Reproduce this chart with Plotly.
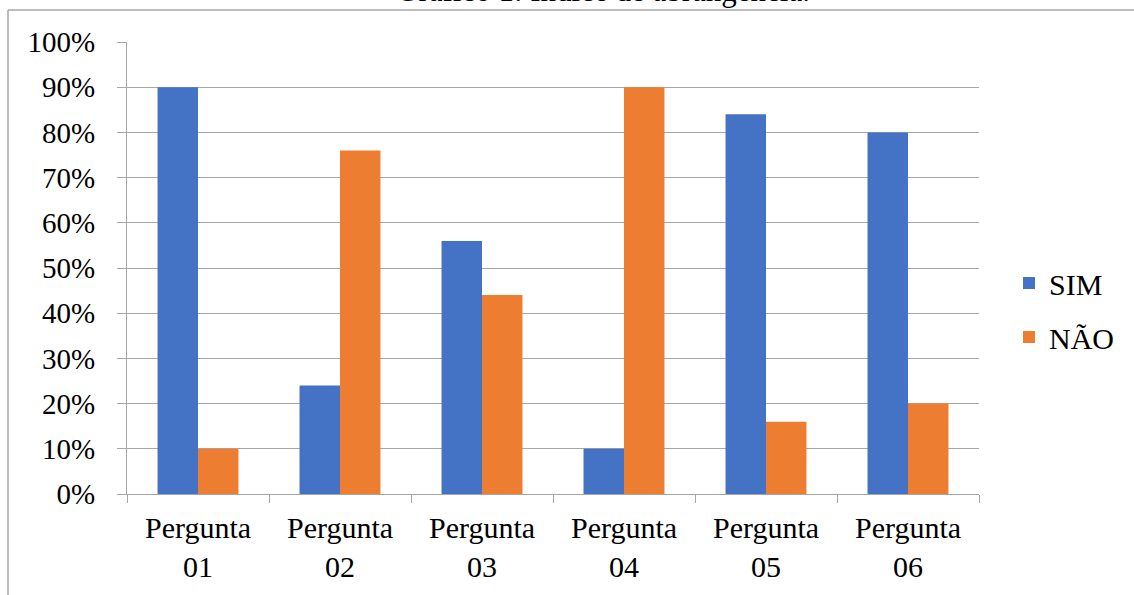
import plotly.graph_objects as go

categories = ["Pergunta<br>01", "Pergunta<br>02", "Pergunta<br>03", "Pergunta<br>04", "Pergunta<br>05", "Pergunta<br>06"]
sim = [0.90, 0.24, 0.56, 0.10, 0.84, 0.80]
nao = [0.10, 0.76, 0.44, 0.90, 0.16, 0.20]
title_text = "Gráfico 1: Índice de abrangência."

W, H = 1134, 595
L, R, T, B = 127, 155, 42, 101
pw, ph = W - L - R, H - T - B

def px_x(px):
    return (px - L) / pw

def px_y(py):
    return (H - B - py) / ph

FONT = "Liberation Serif"
GRID = "#a6a6a6"

fig = go.Figure()
fig.add_trace(go.Bar(name="SIM", x=categories, y=sim, marker_color="#4472C4",
                     marker_line_width=0, legendgroup="a"))
fig.add_trace(go.Bar(name="NÃO", x=categories, y=nao, marker_color="#ED7D31",
                     marker_line_width=0, legendgroup="b"))

fig.update_layout(
    width=W, height=H,
    margin=dict(l=L, r=R, t=T, b=B, pad=0),
    paper_bgcolor="white", plot_bgcolor="white",
    barmode="group", bargap=0.43, bargroupgap=0,
    font=dict(family=FONT, size=29, color="black"),
    legend=dict(x=px_x(1009), y=px_y(257), xanchor="left", yanchor="top",
                font=dict(family=FONT, size=30, color="black"),
                tracegroupgap=12, itemwidth=30, bgcolor="rgba(0,0,0,0)"),
    xaxis=dict(showgrid=False, showline=True, linecolor=GRID, linewidth=1,
               ticks="outside", tickson="boundaries", ticklen=8, tickcolor=GRID,
               ticklabelstandoff=7,
               tickfont=dict(family=FONT, size=30, color="black")),
    yaxis=dict(range=[0, 1], dtick=0.1, tickformat=".0%", showgrid=True,
               gridcolor=GRID, gridwidth=1, showline=True, linecolor=GRID,
               linewidth=1, ticks="outside", ticklen=9, tickcolor=GRID,
               zeroline=False, ticklabelstandoff=16,
               tickfont=dict(family=FONT, size=29, color="black")),
    showlegend=True,
)

# Frame border (left and top edges visible)
fig.add_shape(type="line", xref="paper", yref="paper",
              x0=px_x(8), x1=px_x(1140), y0=px_y(10), y1=px_y(10),
              line=dict(color=GRID, width=1.5))
fig.add_shape(type="line", xref="paper", yref="paper",
              x0=px_x(8), x1=px_x(8), y0=px_y(10), y1=px_y(600),
              line=dict(color=GRID, width=1.5))

# Caption above the frame (cut off at the top edge, as in the reference)
fig.add_annotation(text=title_text, xref="paper", yref="paper",
                   x=px_x(603), y=px_y(10.5), xanchor="center", yanchor="bottom",
                   showarrow=False, font=dict(family=FONT, size=31, color="black"))

fig.write_html("out.html", config={"displayModeBar": False},
               post_script="document.body.style.margin='0';")
